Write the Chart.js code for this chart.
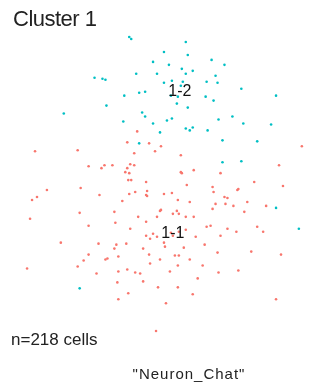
<!DOCTYPE html>
<html>
<head>
<meta charset="utf-8">
<script src="https://cdn.jsdelivr.net/npm/chart.js@4.4.0/dist/chart.umd.min.js"></script>
<style>
  html, body { margin: 0; padding: 0; background: #fff; }
  #wrap { position: relative; width: 320px; height: 385px; font-family: "Liberation Sans", Arial, sans-serif; }
  #embed { position: absolute; left: 0; top: 0; }
  .txt { position: absolute; color: #222; white-space: nowrap; }
  #title { left: 13px; top: 6px; font-size: 22px; letter-spacing: -0.5px; }
  #count { left: 11px; top: 330px; font-size: 17px; }
  #caption { left: 0; width: 378px; text-align: center; top: 365px; font-size: 15px; letter-spacing: 1px; }
</style>
</head>
<body>
<div id="wrap">
  <canvas id="embed" width="320" height="385"></canvas>
  <div class="txt" id="title">Cluster 1</div>
  <div class="txt" id="count">n=218 cells</div>
  <div class="txt" id="caption">"Neuron_Chat"</div>
</div>
<script>
// cluster names and their label positions (embedding coords)
const clusters = ['1-1', '1-2'];
const clusterColors = ['#F8766D', '#00BFC4'];
const labelX = [173, 180];
const labelY = [234, 91];

// cells of cluster 1-1
const c11x = [34, 77, 88, 104, 112, 101,
  137, 127, 149, 161, 155, 134, 181, 130, 134, 127, 125, 129, 181, 182, 194,
  303, 280, 221,
  46, 36, 31, 80, 99, 29, 79, 114, 88, 60, 98, 114, 88,
  128, 131, 146, 187, 135, 129, 147, 146, 147, 164, 172, 178, 190, 122, 160, 161, 177, 173, 179, 138, 157, 186, 194, 146, 115, 130, 186, 207, 146, 153, 150, 157, 171, 179, 173, 196, 164, 165, 116, 126, 205, 143, 184, 149,
  255, 284, 213, 214, 238, 239, 225, 228, 216, 226, 248, 213, 234, 245, 267, 211, 228, 237, 258, 264, 221, 218, 252, 282,
  26, 83, 77, 96, 107, 105,
  118, 160, 150, 175, 179, 190, 178, 203, 118, 127, 135, 140, 170, 198, 117, 143, 158, 178, 128, 193, 118, 166, 156,
  219, 239, 277];
const c11y = [151, 150, 166, 165, 165, 168,
  131, 142, 143, 146, 151, 153, 155, 164, 165, 168, 172, 173, 172, 173, 170,
  146, 165, 173,
  190, 197, 200, 188, 195, 219, 213, 212, 226, 243, 244, 249, 255,
  180, 180, 182, 185, 192, 194, 191, 195, 196, 194, 193, 200, 202, 201, 211, 210, 211, 214, 214, 217, 217, 217, 217, 222, 223, 229, 230, 227, 236, 234, 239, 237, 233, 232, 236, 237, 243, 247, 245, 244, 245, 249, 248, 255,
  182, 186, 187, 192, 190, 189, 197, 198, 204, 204, 202, 209, 206, 212, 206, 226, 229, 232, 227, 232, 236, 253, 252, 255,
  269, 261, 267, 274, 259, 260,
  257, 260, 264, 256, 256, 260, 266, 266, 272, 270, 273, 274, 272, 279, 283, 282, 288, 288, 294, 295, 300, 304, 332,
  273, 271, 300];

// cells of cluster 1-2
const c12x = [94, 102, 105, 106, 63,
  129, 131, 186, 164, 188, 153, 169, 182, 193, 136, 157, 186, 172, 164, 183, 207, 181, 124, 139, 145, 171, 178, 206, 177,
  212, 225, 216, 218, 242, 214, 277,
  188, 142, 145, 123, 153, 167, 172, 186, 193, 190, 208, 160, 139,
  219, 233, 244, 272, 223, 258, 223, 242,
  277, 300, 79];
const c12y = [77, 78, 79, 105, 113,
  36, 38, 41, 51, 54, 61, 64, 68, 70, 73, 73, 73, 80, 82, 81, 81, 85, 95, 92, 91, 95, 96, 96, 103,
  59, 64, 75, 82, 88, 100, 95,
  107, 112, 116, 121, 123, 120, 118, 128, 127, 130, 130, 132, 143,
  119, 116, 123, 124, 140, 141, 162, 161,
  208, 229, 289];

const toPoints = (xs, ys) => xs.map((x, i) => ({ x: x, y: ys[i] }));

// draws the cluster names on top of the cells
const clusterLabels = {
  id: 'clusterLabels',
  afterDatasetsDraw(chart) {
    const ctx = chart.ctx;
    const xs = chart.scales.x, ys = chart.scales.y;
    ctx.save();
    ctx.font = '16px "Liberation Sans", Arial, sans-serif';
    ctx.fillStyle = '#111';
    ctx.textAlign = 'center';
    ctx.textBaseline = 'middle';
    clusters.forEach((name, i) => {
      ctx.fillText(name, xs.getPixelForValue(labelX[i]), ys.getPixelForValue(labelY[i]));
    });
    ctx.restore();
  }
};

new Chart(document.getElementById('embed'), {
  type: 'scatter',
  plugins: [clusterLabels],
  data: {
    datasets: [
      { label: clusters[0], data: toPoints(c11x, c11y), backgroundColor: clusterColors[0] },
      { label: clusters[1], data: toPoints(c12x, c12y), backgroundColor: clusterColors[1] }
    ]
  },
  options: {
    responsive: false,
    animation: false,
    layout: { padding: 0 },
    elements: { point: { radius: 1.3, borderWidth: 0, hoverRadius: 1.3 } },
    scales: {
      x: { display: false, min: 0, max: 320 },
      y: { display: false, min: 0, max: 385, reverse: true }
    },
    plugins: {
      legend: { display: false },
      tooltip: { enabled: false }
    }
  }
});
</script>
</body>
</html>
